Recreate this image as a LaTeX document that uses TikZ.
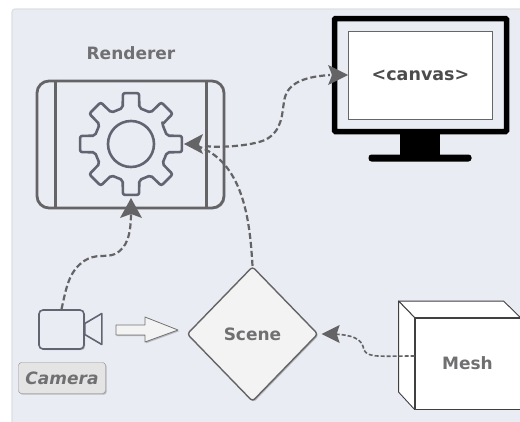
\documentclass[tikz,border=0pt]{standalone}
\usepackage{fontspec}
\setmainfont{DejaVu Sans}
\usetikzlibrary{shapes.geometric,shadows}
\definecolor{panelbg}{RGB}{233,236,243}
\definecolor{paneledge}{RGB}{222,223,226}
\definecolor{inkgray}{RGB}{100,100,103}
\definecolor{geargray}{RGB}{98,100,114}
\definecolor{textgray}{RGB}{112,112,114}
\definecolor{scenefill}{RGB}{243,243,243}
\definecolor{labelfill}{RGB}{228,228,228}
\tikzstyle{softshadow}=[drop shadow={shadow xshift=1.2pt,shadow yshift=-1.2pt,
                       fill=black,opacity=0.22}]
\tikzstyle{title}=[text=textgray,font=\bfseries\fontsize{17}{20}\selectfont]
\tikzstyle{flow}=[draw=inkgray,line width=2.2pt,dash pattern=on 6pt off 3pt]
\tikzstyle{gearline}=[draw=geargray,line width=2.6pt,line join=round]
\tikzstyle{boxline}=[draw=inkgray,line width=2.8pt]
\tikzstyle{meshline}=[draw=black!75,line width=0.9pt,line join=round]

\begin{document}
\begin{tikzpicture}[x=1pt,y=-1pt]
  \useasboundingbox (0,0) rectangle (520,421);
  % Panel
  \fill[white] (0,0) rectangle (520,421);
  \path[fill=panelbg,draw=paneledge,line width=1.2pt,rounded corners=3pt]
    (12,9) -- (530,9) -- (530,430) -- (12,430) -- cycle;
  %
  % Renderer with its gear
  \node[title] (renderertitle) at (131,53) {Renderer};
  \node[boxline,fill=panelbg,rectangle,rounded corners=12pt,minimum width=187pt,
        minimum height=127pt,softshadow] (renderer) at (130.5,144.5) {};
  \draw[boxline] ([xshift=20pt]renderer.north west) -- ([xshift=20pt]renderer.south west);
  \draw[boxline] ([xshift=-19pt]renderer.north east) -- ([xshift=-19pt]renderer.south east);
  \node[gearline,circle,minimum size=46pt,inner sep=0pt] (hub) at (131,144) {};
  \coordinate (gearright) at (184,144);
  \coordinate (gearbottom) at (131,198);
  \draw[gearline,rounded corners=2pt,shift={(hub.center)}] (-32:37)
    \foreach \a in {0,45,...,315} {
      -- (\a-13:37) -- (\a-9:51.5) -- (\a+9:51.5) -- (\a+13:37)
    } -- cycle;
  %
  % Monitor
  \node[draw=black,line width=5.5pt,rectangle,rounded corners=1pt,minimum width=172pt,
        minimum height=113pt] (monitor) at (420.5,75) {};
  \node[fill=black,rectangle,minimum width=40pt,minimum height=24pt,inner sep=0pt]
    (neck) at (420,145) {};
  \node[fill=black,rectangle,rounded corners=3pt,minimum width=103pt,minimum height=7pt,
        inner sep=0pt] (foot) at (420,158) {};
  \node[fill=white,draw=black!60,line width=0.9pt,rectangle,minimum width=144pt,
        minimum height=88pt,text=black!70,font=\bfseries\fontsize{17.5}{20}\selectfont]
    (canvas) at (420.5,75) {<canvas>};
  %
  % Camera
  \node[draw=geargray,fill=panelbg,line width=1.6pt,rectangle,rounded corners=4pt,
        minimum width=45pt,minimum height=39pt,softshadow] (camera) at (61.5,329.5) {};
  \draw[draw=geargray,line width=1.6pt,line join=round]
    ([yshift=6pt]camera.east) -- ++(17,-10) -- ++(0,31) -- ([yshift=-5pt]camera.east) -- cycle;
  \node[draw=black!45,fill=labelfill,rectangle,rounded corners=3pt,minimum width=87pt,
        minimum height=31pt,text=textgray,softshadow,
        font=\bfseries\itshape\fontsize{17}{20}\selectfont] (cameralabel) at (62,378) {Camera};
  %
  % Scene and mesh
  \node[draw=inkgray,fill=scenefill,line width=1.4pt,diamond,rounded corners=3pt,
        minimum width=131pt,minimum height=135pt,inner sep=0pt,text=textgray,softshadow,
        font=\bfseries\fontsize{17}{20}\selectfont] (scene) at (252.5,334) {Scene};
  \node[fill=white,meshline,rectangle,minimum width=105pt,minimum height=91pt,
        text=textgray,font=\bfseries\fontsize{17}{20}\selectfont] (mesh) at (467.5,363.5) {Mesh};
  \draw[meshline,fill=white] (mesh.north west) -- ++(-16,-16.5) -- ++(105,0) -- (mesh.north east) -- cycle;
  \draw[meshline,fill=white] (mesh.north west) -- ++(-16,-16.5) -- ++(0,91) -- (mesh.south west) -- cycle;
  %
  % White arrow into the scene
  \draw[draw=black!55,fill=scenefill,line width=0.8pt,line join=round,softshadow]
    (116,325) -- (145,325) -- (145,317) -- (178,330) -- (145,342) -- (145,335) -- (116,335) -- cycle;
  %
  % Dashed connectors
  \draw[flow] (camera.north) .. controls (66,290) and (68,272) .. (84,261)
    .. controls (96,253) and (106,258) .. (115,254)
    .. controls (127,248) and (131,235) .. (131,212);
  \draw[flow] (scene.north) .. controls (250,225) and (245,165) .. (200,147);
  \draw[flow] (205,146) .. controls (220,148) and (250,146) .. (265,140)
    .. controls (283,131) and (282,112) .. (284,102)
    .. controls (286,85) and (300,77) .. (330,75);
  \draw[flow,line width=1.6pt,dash pattern=on 4pt off 2pt] (mesh.west |- 0,356) coordinate (meshport)
    .. controls (380,356) and (368,358) .. (364,350)
    .. controls (362,338) and (352,335) .. (333,334);
  %
  % Arrow heads
  \fill[inkgray] (gearbottom) -- ++(11,20) -- ++(-11,-4) -- ++(-11,4) -- cycle;
  \fill[inkgray] (gearright) -- ++(19,-10) -- ++(-4,10) -- ++(4,10) -- cycle;
  \fill[inkgray] (canvas.west) -- ++(-20,-10) -- ++(4,10) -- ++(-4,10) -- cycle;
  \fill[inkgray] (scene.east) ++(3,0) -- ++(18,-9) -- ++(-3,9) -- ++(3,9) -- cycle;
\end{tikzpicture}
\end{document}
